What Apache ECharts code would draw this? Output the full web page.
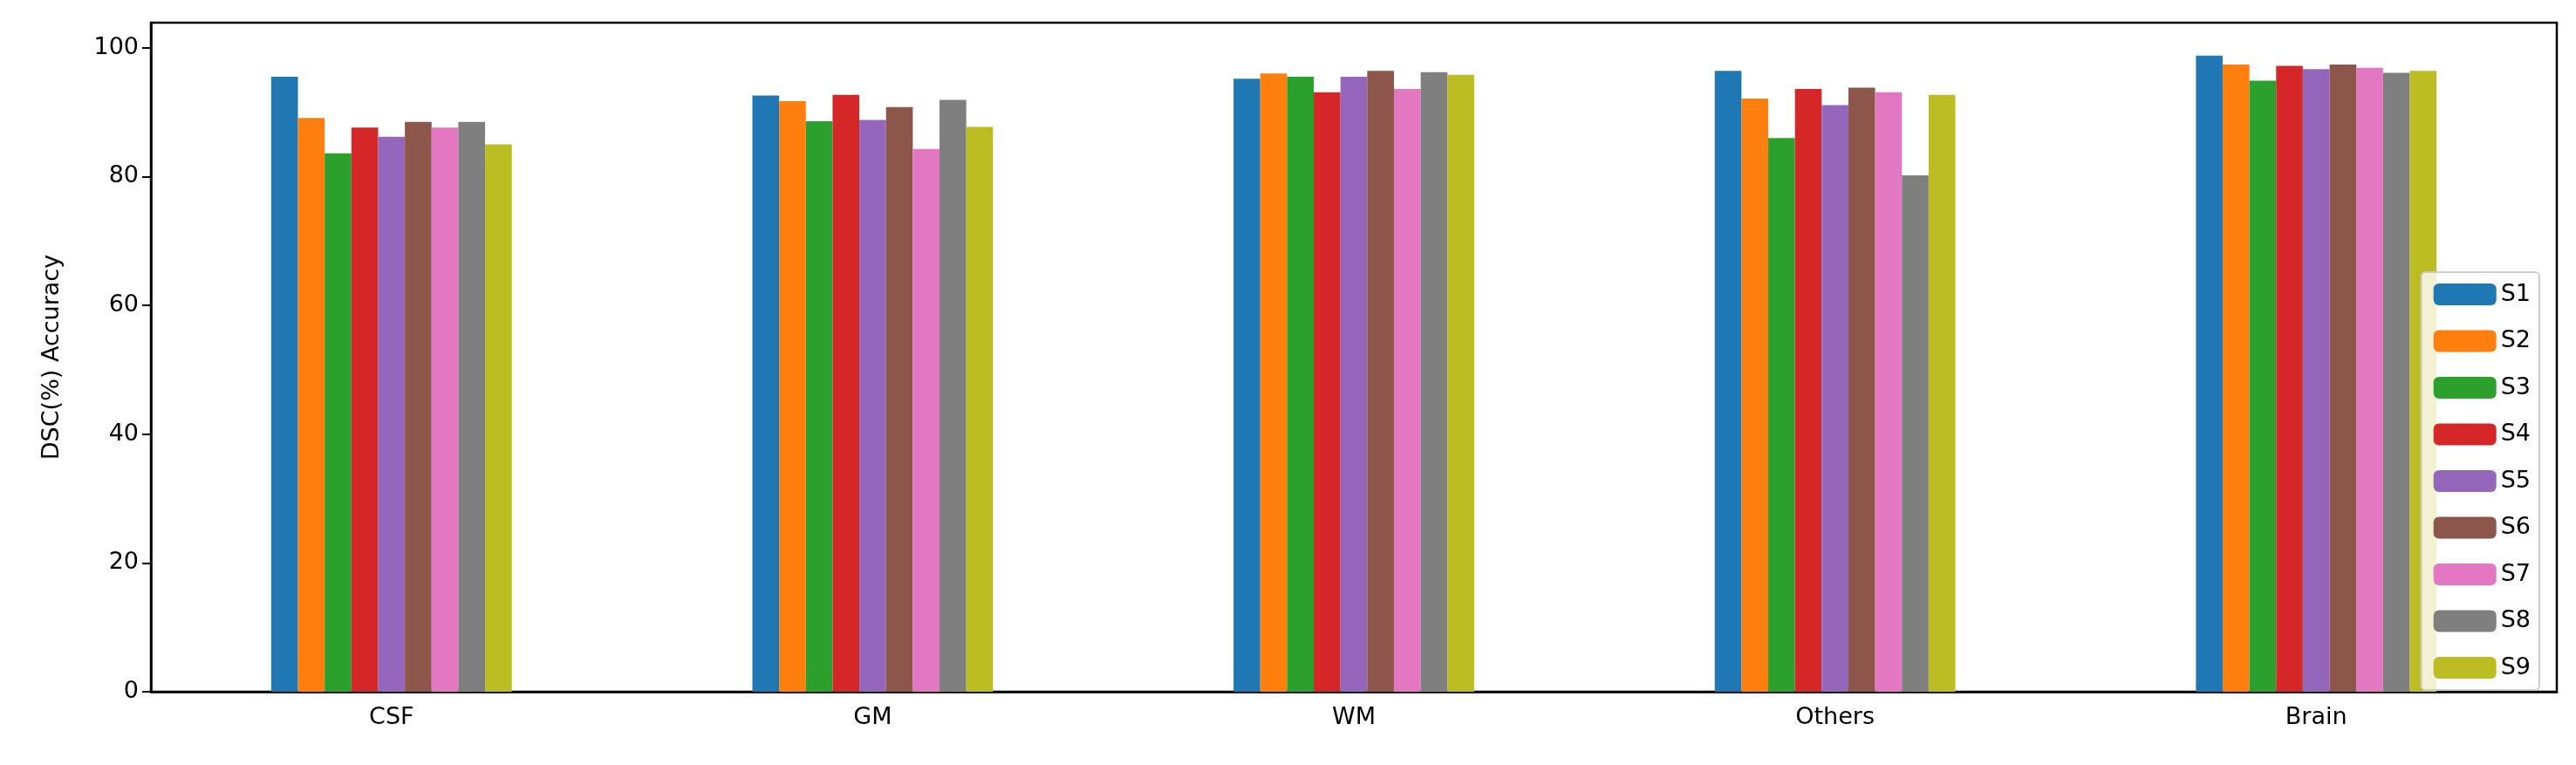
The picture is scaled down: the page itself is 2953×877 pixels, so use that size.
<!DOCTYPE html>
<html><head><meta charset="utf-8">
<script src="https://cdn.jsdelivr.net/npm/echarts@6/dist/echarts.min.js"></script>
<style>html,body{margin:0;padding:0;background:#fff}#c{width:2953px;height:877px}</style>
</head><body><div id="c"></div>
<script>
const categories = ['CSF','GM','WM','Others','Brain'];
const seriesNames = ['S1','S2','S3','S4','S5','S6','S7','S8','S9'];
const S1 = [95.5, 92.6, 95.2, 96.4, 98.8];
const S2 = [89.1, 91.7, 96.0, 92.1, 97.4];
const S3 = [83.6, 88.6, 95.5, 86.0, 94.9];
const S4 = [87.6, 92.7, 93.1, 93.6, 97.2];
const S5 = [86.2, 88.8, 95.5, 91.1, 96.7];
const S6 = [88.5, 90.8, 96.4, 93.8, 97.4];
const S7 = [87.6, 84.3, 93.6, 93.1, 96.9];
const S8 = [88.5, 91.9, 96.2, 80.2, 96.1];
const S9 = [85.0, 87.7, 95.8, 92.7, 96.4];
const values = [S1,S2,S3,S4,S5,S6,S7,S8,S9];
const colors = ['#1f77b4','#ff7f0e','#2ca02c','#d62728','#9467bd','#8c564b','#e377c2','#7f7f7f','#bcbd22'];
const font = 'DejaVu Sans';
const chart = echarts.init(document.getElementById('c'));
chart.setOption({
  animation:false,
  color: colors,
  grid:{left:173,right:22,top:26,bottom:84,containLabel:false,show:true,borderColor:'#000',borderWidth:2.5},
  legend:{orient:'vertical',right:42,top:312,itemWidth:72,itemHeight:25,itemGap:26.5,
    textStyle:{fontFamily:font,fontSize:27,color:'#000'},
    backgroundColor:'rgba(255,255,255,0.8)',borderColor:'#ccc',borderWidth:2,borderRadius:5,padding:[12,10,12,14],
    data:seriesNames},
  xAxis:{type:'category',data:categories,
    axisLine:{lineStyle:{color:'#000',width:2.5}},
    axisTick:{alignWithLabel:true,length:10,lineStyle:{color:'#000',width:2}},
    axisLabel:{fontFamily:font,fontSize:27,color:'#000',margin:16}},
  yAxis:{type:'value',min:0,max:103.9,interval:20,
    name:'DSC(%) Accuracy',nameLocation:'middle',nameGap:100,nameTextStyle:{fontFamily:font,fontSize:27,color:'#000'},
    splitLine:{show:false},
    axisLine:{show:true,lineStyle:{color:'#000',width:2.5}},
    axisTick:{show:true,length:10,lineStyle:{color:'#000',width:2}},
    axisLabel:{fontFamily:font,fontSize:27,color:'#000',margin:14,showMaxLabel:false}},
  series: seriesNames.map((n,i)=>({name:n,type:'bar',data:values[i],barGap:'0%',barCategoryGap:'50%'}))
});
</script></body></html>
